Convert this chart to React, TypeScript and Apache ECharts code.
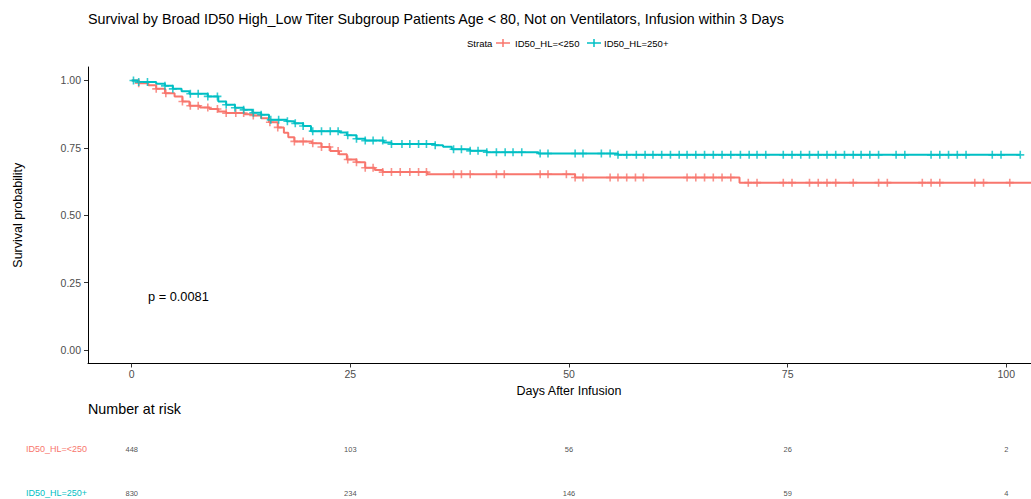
import { useEffect, useRef } from "react";
import * as echarts from "echarts";

const RED = "#F8766D";
const BLUE = "#00BFC4";
const FONT = "'Liberation Sans', Arial, sans-serif";

const titleText =
  "Survival by Broad ID50 High_Low Titer Subgroup Patients Age < 80, Not on Ventilators, Infusion within 3 Days";
const strata = ["ID50_HL=<250", "ID50_HL=250+"];
const pValueText = "p = 0.0081";

// Kaplan-Meier step points: time of drop, survival after the drop
const lowTimes = [0, 0.8, 1.9, 2.8, 3.8, 4.9, 5.8, 6.6, 7.8, 8.9, 9.9, 10.8, 12.9, 13.9, 14.8, 15.7, 16.7, 17.4, 17.9, 18.6, 20.6, 21.7, 22.7, 23.7, 24.6, 25.7, 26.7, 27.8, 28.7, 33.8, 50.7, 69.5, 105];
const lowSurv = [1, 0.99, 0.982, 0.969, 0.953, 0.941, 0.922, 0.906, 0.9, 0.894, 0.885, 0.879, 0.875, 0.87, 0.86, 0.845, 0.826, 0.806, 0.789, 0.774, 0.767, 0.753, 0.738, 0.726, 0.707, 0.697, 0.676, 0.668, 0.66, 0.652, 0.64, 0.621, 0.621];

const highTimes = [0, 0.7, 2.8, 3.8, 4.7, 5.7, 6.6, 8.7, 9.9, 10.8, 11.8, 12.8, 13.8, 14.8, 15.7, 17.7, 18.6, 19.6, 20.5, 23.8, 24.6, 25.7, 26.7, 28.8, 29.7, 34.7, 35.6, 36.6, 38.7, 40.6, 46.5, 55.6, 101.6];
const highSurv = [1, 0.994, 0.988, 0.98, 0.969, 0.96, 0.951, 0.941, 0.922, 0.91, 0.899, 0.891, 0.88, 0.873, 0.854, 0.849, 0.841, 0.831, 0.812, 0.807, 0.797, 0.784, 0.777, 0.77, 0.764, 0.76, 0.754, 0.745, 0.739, 0.734, 0.729, 0.724, 0.724];

// censoring times
const lowCensor = [0.8, 2.8, 3.9, 5.8, 6.7, 7.6, 8.7, 9.8, 10.8, 11.9, 12.8, 13.9, 15.8, 16.7, 18.6, 19.6, 20.7, 21.7, 22.6, 23.6, 24.7, 25.7, 26.7, 27.6, 28.7, 29.7, 30.7, 31.8, 32.8, 33.7, 36.8, 37.7, 38.7, 41.7, 42.6, 46.7, 47.6, 49.7, 50.7, 51.6, 54.7, 55.6, 56.6, 57.6, 58.5, 63.5, 64.5, 65.5, 66.5, 67.5, 68.5, 70.5, 71.5, 74.5, 75.5, 77.5, 78.5, 79.5, 80.5, 82.5, 85.4, 86.4, 90.4, 91.4, 92.4, 96.4, 97.4, 100.4];
const highCensor = [0.2, 0.8, 1.8, 3.8, 4.7, 6.7, 7.6, 8.7, 9.8, 10.8, 11.8, 12.8, 13.9, 14.8, 15.9, 16.8, 17.8, 18.7, 19.6, 20.7, 21.7, 22.7, 23.6, 24.7, 25.7, 26.7, 27.6, 28.7, 29.7, 30.9, 31.8, 32.8, 33.7, 34.7, 36.8, 37.7, 38.7, 39.6, 40.6, 41.7, 42.7, 43.6, 44.6, 46.7, 47.6, 50.7, 51.6, 53.7, 54.7, 55.6, 56.6, 57.7, 58.7, 59.6, 60.6, 61.6, 62.6, 63.5, 64.5, 65.5, 66.5, 67.5, 68.5, 69.6, 70.6, 71.5, 72.5, 74.5, 75.5, 76.5, 77.5, 78.5, 79.5, 80.5, 81.5, 82.5, 83.4, 84.4, 85.4, 87.4, 88.4, 91.4, 92.4, 93.4, 94.4, 95.4, 98.4, 99.4, 101.6];

// risk table
const riskTimes = [0, 25, 50, 75, 100];
const lowRisk = [448, 103, 56, 26, 2];
const highRisk = [830, 234, 146, 59, 4];

const yTicks = [0, 0.25, 0.5, 0.75, 1];

const PLUS = "path://M4,0h2v4h4v2h-4v4h-2v-4h-4v-2h4z";

function stepAt(times: number[], surv: number[], t: number) {
  let v = surv[0];
  for (let i = 0; i < times.length; i++) {
    if (times[i] <= t) v = surv[i];
  }
  return v;
}

export default function App() {
  const ref = useRef<HTMLDivElement>(null);
  useEffect(() => {
    if (!ref.current) return;
    const chart = echarts.init(ref.current, undefined, { renderer: "svg" });
    const lowLine = lowTimes.map((t, i) => [t, lowSurv[i]]);
    const highLine = highTimes.map((t, i) => [t, highSurv[i]]);
    const lowC = lowCensor.map((t) => [t, stepAt(lowTimes, lowSurv, t)]);
    const highC = highCensor.map((t) => [t, stepAt(highTimes, highSurv, t)]);

    const riskLabel = {
      show: true,
      position: "inside",
      formatter: (p: any) => String(p.value[2]),
      fontSize: 7.5,
      color: "#222",
      fontFamily: FONT,
    };

    const option: any = {
      animation: false,
      backgroundColor: "#fff",
      textStyle: { fontFamily: FONT },
      title: [
        {
          text: titleText,
          left: 88,
          top: 12,
          padding: 0,
          textStyle: { fontSize: 14.3, fontWeight: "normal", color: "#000", fontFamily: FONT },
        },
        {
          text: "Number at risk",
          left: 88,
          top: 402,
          padding: 0,
          textStyle: { fontSize: 14.3, fontWeight: "normal", color: "#000", fontFamily: FONT },
        },
      ],
      grid: [
        { left: 88, top: 67, width: 962, height: 296.5 },
        { left: 88, top: 427, width: 962, height: 88 },
      ],
      xAxis: [
        {
          gridIndex: 0,
          type: "value",
          min: -5,
          max: 105,
          name: "Days After Infusion",
          nameLocation: "middle",
          nameGap: 12,
          nameTextStyle: { fontSize: 12.5, color: "#000", fontFamily: FONT },
          axisLine: { show: true, onZero: false, lineStyle: { color: "#000", width: 1 } },
          axisTick: { show: true, customValues: riskTimes, length: 4, lineStyle: { color: "#333" } },
          axisLabel: { customValues: riskTimes, fontSize: 10.5, color: "#4d4d4d", margin: 5, fontFamily: FONT },
          splitLine: { show: false },
        },
        { gridIndex: 1, type: "value", min: -5, max: 105, show: false },
      ],
      yAxis: [
        {
          gridIndex: 0,
          type: "value",
          min: -0.05,
          max: 1.05,
          name: "Survival probability",
          nameLocation: "middle",
          nameGap: 64,
          nameRotate: 90,
          nameTextStyle: { fontSize: 12.5, color: "#000", fontFamily: FONT },
          axisLine: { show: true, onZero: false, lineStyle: { color: "#000", width: 1 } },
          axisTick: { show: true, customValues: yTicks, length: 4, lineStyle: { color: "#333" } },
          axisLabel: {
            customValues: yTicks,
            formatter: (v: number) => v.toFixed(2),
            fontSize: 10.5,
            color: "#4d4d4d",
            margin: 7,
            fontFamily: FONT,
          },
          splitLine: { show: false },
        },
        {
          gridIndex: 1,
          type: "category",
          data: strata,
          inverse: true,
          axisLine: { show: false },
          axisTick: { show: false },
          splitLine: { show: false },
          axisLabel: {
            margin: 62,
            align: "left",
            fontSize: 9,
            fontFamily: FONT,
            color: (_v: any, idx: number) => (idx === 0 ? RED : BLUE),
          },
        },
      ],
      series: [
        {
          type: "line",
          step: "end",
          data: lowLine,
          showSymbol: false,
          lineStyle: { color: RED, width: 2 },
          itemStyle: { color: RED },
          z: 3,
        },
        {
          type: "line",
          step: "end",
          data: highLine,
          showSymbol: false,
          lineStyle: { color: BLUE, width: 2 },
          itemStyle: { color: BLUE },
          z: 4,
        },
        {
          type: "scatter",
          data: lowC,
          symbol: PLUS,
          symbolSize: 8,
          itemStyle: { color: RED },
          z: 5,
        },
        {
          type: "scatter",
          data: highC,
          symbol: PLUS,
          symbolSize: 8,
          itemStyle: { color: BLUE },
          z: 6,
        },
        {
          type: "scatter",
          xAxisIndex: 1,
          yAxisIndex: 1,
          data: riskTimes.map((t, i) => [t, strata[0], lowRisk[i]]),
          symbolSize: 1,
          itemStyle: { color: "rgba(0,0,0,0)" },
          label: riskLabel,
        },
        {
          type: "scatter",
          xAxisIndex: 1,
          yAxisIndex: 1,
          data: riskTimes.map((t, i) => [t, strata[1], highRisk[i]]),
          symbolSize: 1,
          itemStyle: { color: "rgba(0,0,0,0)" },
          label: riskLabel,
        },
      ],
      graphic: [
        {
          type: "text",
          left: 148,
          top: 290,
          style: { text: pValueText, fontSize: 12.8, fill: "#000", fontFamily: FONT },
        },
        {
          type: "text",
          left: 467,
          top: 38,
          style: { text: "Strata", fontSize: 9.5, fill: "#000", fontFamily: FONT },
        },
        { type: "line", shape: { x1: 496, y1: 43, x2: 510, y2: 43 }, style: { stroke: RED, lineWidth: 1.5 } },
        { type: "line", shape: { x1: 503, y1: 39, x2: 503, y2: 47 }, style: { stroke: RED, lineWidth: 1.5 } },
        {
          type: "text",
          left: 515,
          top: 38,
          style: { text: strata[0], fontSize: 9.5, fill: "#000", fontFamily: FONT },
        },
        { type: "line", shape: { x1: 587, y1: 43, x2: 601, y2: 43 }, style: { stroke: BLUE, lineWidth: 1.5 } },
        { type: "line", shape: { x1: 594, y1: 39, x2: 594, y2: 47 }, style: { stroke: BLUE, lineWidth: 1.5 } },
        {
          type: "text",
          left: 604,
          top: 38,
          style: { text: strata[1], fontSize: 9.5, fill: "#000", fontFamily: FONT },
        },
      ],
    };
    chart.setOption(option);
    return () => chart.dispose();
  }, []);
  return (
    <div
      style={{ position: "absolute", left: 0, top: 0, width: 1031, height: 499, overflow: "hidden" }}
    >
      <div
        ref={ref}
        style={{ position: "absolute", left: 0, top: 0, width: 1050, height: 520 }}
      />
    </div>
  );
}
